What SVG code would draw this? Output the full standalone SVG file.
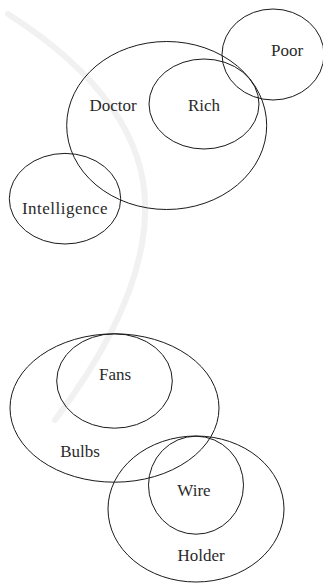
<svg xmlns="http://www.w3.org/2000/svg" width="323" height="584" viewBox="0 0 323 584">
<style>
.set{fill:none;stroke:#1a1a1a;stroke-width:1}
.lbl{font-family:'Liberation Serif','Times New Roman',serif;font-size:17px;fill:#2a2a2a;text-anchor:middle}
.wm{fill:none;stroke:#f1f1f1;stroke-width:6;stroke-linecap:round}
</style>
<rect width="323" height="584" fill="#ffffff"/>
<path class="wm" d="M 8 14 Q 150 105 145 215 Q 142 305 55 420"/>
<g id="doctor"><ellipse class="set" cx="166.7" cy="125.5" rx="100" ry="84"/><text class="lbl" x="113" y="111">Doctor</text></g>
<g id="rich"><ellipse class="set" cx="204" cy="104" rx="55" ry="45"/><text class="lbl" x="204" y="111">Rich</text></g>
<g id="poor"><ellipse class="set" cx="273" cy="54.5" rx="51" ry="45.5"/><text class="lbl" x="287" y="56">Poor</text></g>
<g id="intelligence"><ellipse class="set" cx="65" cy="198.7" rx="55.7" ry="45.3"/><text class="lbl" x="65" y="213.5" letter-spacing="0.5">Intelligence</text></g>
<g id="bulbs"><ellipse class="set" cx="114.5" cy="408" rx="104.5" ry="74.2"/><text class="lbl" x="80" y="457">Bulbs</text></g>
<g id="fans"><ellipse class="set" cx="114.5" cy="381" rx="57.8" ry="47.2"/><text class="lbl" x="115" y="380">Fans</text></g>
<g id="holder"><ellipse class="set" cx="196" cy="509" rx="88" ry="73"/><text class="lbl" x="201" y="561">Holder</text></g>
<g id="wire"><ellipse class="set" cx="196" cy="485.2" rx="47.5" ry="49"/><text class="lbl" x="194" y="496">Wire</text></g>
<g id="connectors"></g>
</svg>
